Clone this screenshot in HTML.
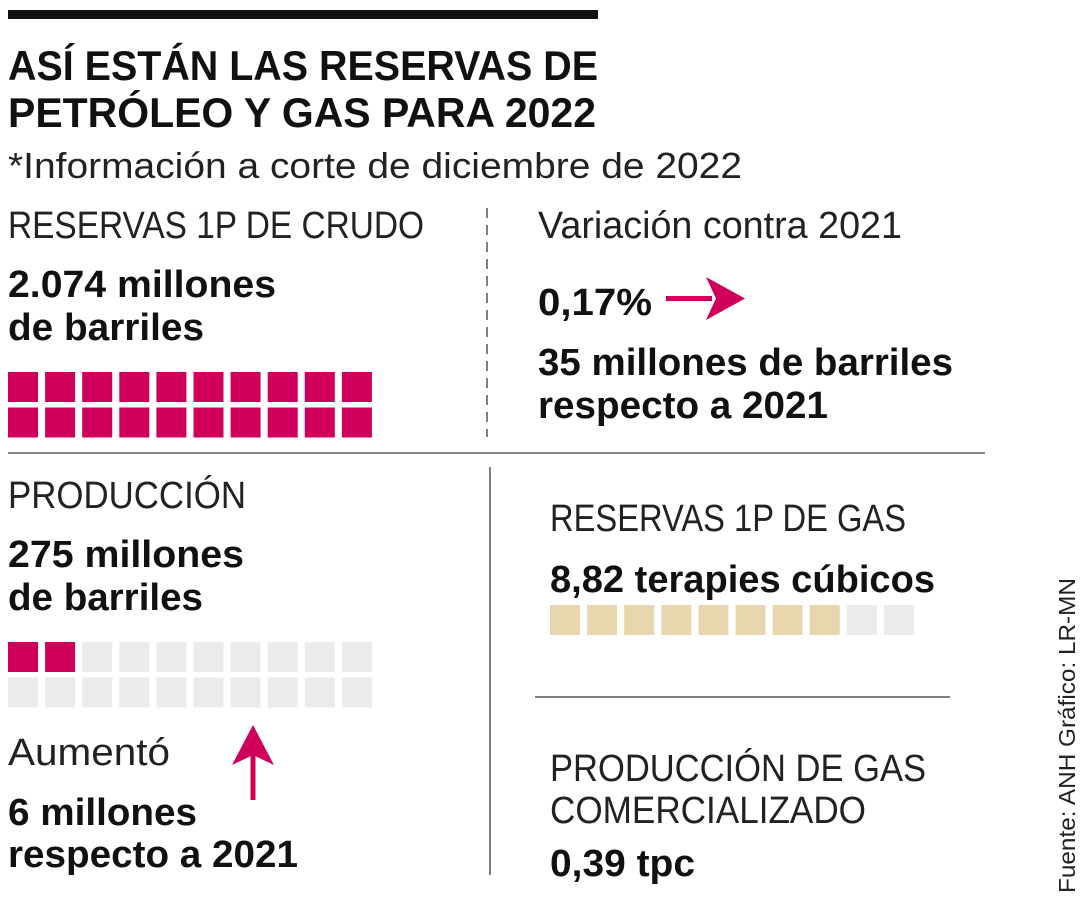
<!DOCTYPE html>
<html><head><meta charset="utf-8">
<style>
html,body{margin:0;padding:0;background:#fff;}
svg{display:block;font-family:"Liberation Sans",sans-serif;}
.b{font-weight:bold;fill:#111;}
.l{fill:#222;font-weight:normal;}
</style></head>
<body>
<svg id="c" width="1080" height="900" viewBox="0 0 1080 900">
<rect x="8" y="10" width="590" height="9" fill="#111"/>
<text class="b" x="8" y="80" font-size="42" textLength="590" lengthAdjust="spacingAndGlyphs">ASÍ ESTÁN LAS RESERVAS DE</text>
<text class="b" x="8" y="127" font-size="42" textLength="588" lengthAdjust="spacingAndGlyphs">PETRÓLEO Y GAS PARA 2022</text>
<text class="l" x="8" y="178" font-size="36" textLength="734" lengthAdjust="spacingAndGlyphs">*Información a corte de diciembre de 2022</text>

<text class="l" x="8" y="238" font-size="38" textLength="416" lengthAdjust="spacingAndGlyphs">RESERVAS 1P DE CRUDO</text>
<text class="b" x="8" y="297" font-size="38" textLength="268" lengthAdjust="spacingAndGlyphs">2.074 millones</text>
<text class="b" x="8" y="340" font-size="38" textLength="196" lengthAdjust="spacingAndGlyphs">de barriles</text>

<line x1="487" y1="208" x2="487" y2="437" stroke="#555" stroke-width="1.5" stroke-dasharray="10,7"/>
<text class="l" x="538" y="238" font-size="38" textLength="364" lengthAdjust="spacingAndGlyphs">Variación contra 2021</text>
<text class="b" x="538" y="315" font-size="38" textLength="114" lengthAdjust="spacingAndGlyphs">0,17%</text>
<g>
<rect x="666" y="296" width="46" height="5" fill="#d0005a"/>
<polygon points="706,277 745,298.5 706,320 716,298.5" fill="#d0005a"/>
</g>
<text class="b" x="538" y="375" font-size="38" textLength="415" lengthAdjust="spacingAndGlyphs">35 millones de barriles</text>
<text class="b" x="538" y="418" font-size="38" textLength="290" lengthAdjust="spacingAndGlyphs">respecto a 2021</text>

<line x1="8" y1="453" x2="985" y2="453" stroke="#888" stroke-width="2"/>
<line x1="490" y1="467" x2="490" y2="875" stroke="#555" stroke-width="1.5"/>

<text class="l" x="8" y="508" font-size="38" textLength="238" lengthAdjust="spacingAndGlyphs">PRODUCCIÓN</text>
<text class="b" x="8" y="567" font-size="38" textLength="236" lengthAdjust="spacingAndGlyphs">275 millones</text>
<text class="b" x="8" y="610" font-size="38" textLength="195" lengthAdjust="spacingAndGlyphs">de barriles</text>

<text class="l" x="8" y="765" font-size="38" textLength="162" lengthAdjust="spacingAndGlyphs">Aumentó</text>
<text class="b" x="8" y="825" font-size="38" textLength="189" lengthAdjust="spacingAndGlyphs">6 millones</text>
<text class="b" x="8" y="867" font-size="38" textLength="290" lengthAdjust="spacingAndGlyphs">respecto a 2021</text>
<g>
<rect x="250.5" y="755" width="5" height="45" fill="#d0005a"/>
<polygon points="232,765 253,725 274,765 253,755" fill="#d0005a"/>
</g>

<text class="l" x="550" y="531" font-size="38" textLength="356" lengthAdjust="spacingAndGlyphs">RESERVAS 1P DE GAS</text>
<text class="b" x="550" y="592" font-size="38" textLength="385" lengthAdjust="spacingAndGlyphs">8,82 terapies cúbicos</text>

<line x1="535" y1="697" x2="950" y2="697" stroke="#555" stroke-width="1.5"/>
<text class="l" x="550" y="781" font-size="38" textLength="376" lengthAdjust="spacingAndGlyphs">PRODUCCIÓN DE GAS</text>
<text class="l" x="550" y="823" font-size="38" textLength="316" lengthAdjust="spacingAndGlyphs">COMERCIALIZADO</text>
<text class="b" x="550" y="876" font-size="38" textLength="145" lengthAdjust="spacingAndGlyphs">0,39 tpc</text>

<text class="l" transform="translate(1075,893) rotate(-90)" font-size="23" textLength="315" lengthAdjust="spacingAndGlyphs">Fuente: ANH  Gráfico: LR-MN</text>
<g id="grids"></g>
</svg>
<script>
// waffle data
const crudeFilled = 20;
const crudeTotal = 20;
const prodFilled = 2;
const prodTotal = 20;
const gasFilled = 8;
const gasTotal = 10;

const NS = 'http://www.w3.org/2000/svg';
const g = document.getElementById('grids');
function waffle(name, filled, total, x0, y0, rowGap, color) {
  const pitch = 37.1, size = 30;
  for (let i = 0; i < total; i++) {
    const col = i % 10, row = Math.floor(i / 10);
    const r = document.createElementNS(NS, 'rect');
    r.setAttribute('x', x0 + col * pitch);
    r.setAttribute('y', y0 + row * rowGap);
    r.setAttribute('width', size);
    r.setAttribute('height', size);
    r.setAttribute('fill', i < filled ? color : '#ebebeb');
    
    
    g.appendChild(r);
  }
}
waffle('crude-reserves', crudeFilled, crudeTotal, 8, 372, 35.5, '#d0005a');
waffle('production', prodFilled, prodTotal, 8, 642, 35.5, '#d0005a');
waffle('gas-reserves', gasFilled, gasTotal, 550, 605, 35.5, '#e8d6ae');
</script>
</body></html>
